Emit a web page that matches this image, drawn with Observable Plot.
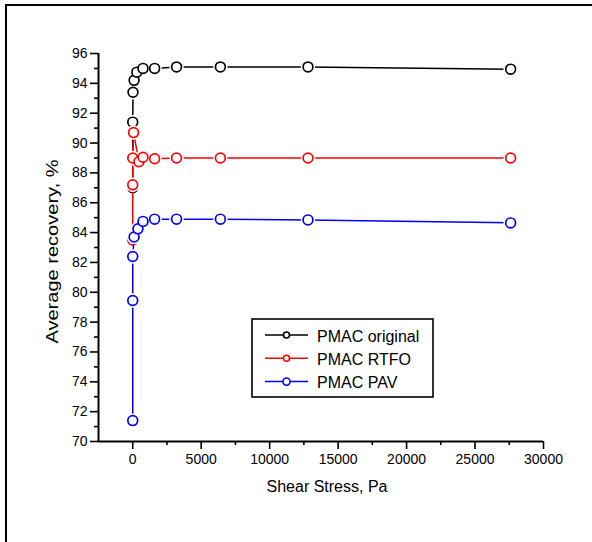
<!DOCTYPE html>
<html><head><meta charset="utf-8">
<script src="https://cdn.jsdelivr.net/npm/d3@7"></script>
<script src="https://cdn.jsdelivr.net/npm/@observablehq/plot@0.6"></script>
<style>
body{margin:0;background:#fff;}
#wrap{position:relative;width:592px;height:542px;overflow:hidden;font-family:"Liberation Sans",Arial,sans-serif;}
#frame{position:absolute;left:5px;top:4px;width:700px;height:700px;border-left:2px solid #000;border-top:2px solid #000;pointer-events:none;}
#chart{position:absolute;left:0;top:0;}
#legend{position:absolute;left:251px;top:318px;}
</style>
</head><body>
<div id="wrap"><div id="chart"></div><div id="frame"></div><div id="legend"></div></div>
<script>
// Series names and colours
const seriesNames = ["PMAC original", "PMAC RTFO", "PMAC PAV"];
const seriesColors = ["#000000", "#ff0000", "#0000ff"];

// Shear stress (Pa) and average recovery (%)
const stressOriginal = [0, 0, 20, 100, 300, 750, 1600, 3200, 6400, 12800, 27600];
const recoveryOriginal = [87.0, 91.4, 93.4, 94.2, 94.75, 95.0, 95.0, 95.1, 95.1, 95.1, 94.95];

const stressRTFO = [0, 0, 0, 60, 450, 750, 1600, 3200, 6400, 12800, 27600];
const recoveryRTFO = [83.5, 87.2, 89.0, 90.7, 88.75, 89.05, 88.95, 89.0, 89.0, 89.0, 89.0];

const stressPAV = [0, 0, 0, 100, 380, 750, 1600, 3200, 6400, 12800, 27600];
const recoveryPAV = [71.4, 79.45, 82.4, 83.7, 84.25, 84.75, 84.9, 84.9, 84.9, 84.85, 84.65];

// Axis ticks
const xMajorTicks = [0, 5000, 10000, 15000, 20000, 25000, 30000];
const xMinorTicks = [2500, 7500, 12500, 17500, 22500, 27500];
const yMajorTicks = [70, 72, 74, 76, 78, 80, 82, 84, 86, 88, 90, 92, 94, 96];
const yMinorTicks = [71, 73, 75, 77, 79, 81, 83, 85, 87, 89, 91, 93, 95];
const xLabel = "Shear Stress, Pa";
const yLabel = "Average recovery, %";

const allStress = [stressOriginal, stressRTFO, stressPAV];
const allRecovery = [recoveryOriginal, recoveryRTFO, recoveryPAV];
const data = [];
seriesNames.forEach((s, i) => {
  allStress[i].forEach((x, j) => data.push({series: s, stress: x, recovery: allRecovery[i][j], order: j}));
});

const marks = [];
seriesNames.forEach((s, i) => {
  const d = data.filter(r => r.series === s);
  marks.push(Plot.line(d, {x: "stress", y: "recovery", stroke: seriesColors[i], strokeWidth: 1.5}));
  marks.push(Plot.dot(d, {x: "stress", y: "recovery", r: 7.2, fill: "white", stroke: null}));
  marks.push(Plot.dot(d, {x: "stress", y: "recovery", r: 4.9, fill: "white", stroke: seriesColors[i], strokeWidth: 1.7}));
});

const plot = Plot.plot({
  width: 592,
  height: 542,
  marginLeft: 98,
  marginRight: 49,
  marginTop: 53,
  marginBottom: 101,
  style: {fontFamily: '"Liberation Sans", Arial, sans-serif', background: "transparent", color: "#000"},
  x: {domain: [-2500, 30000]},
  y: {domain: [70, 96]},
  marks: [
    ...marks,
    Plot.axisX({ticks: xMajorTicks, tickSize: 8, tickPadding: 5, strokeWidth: 1.6, fontSize: 14, tickFormat: d => String(d), label: null}),
    Plot.axisX({ticks: xMinorTicks, tickSize: 4, strokeWidth: 1.6, tickFormat: null, text: null, label: null}),
    Plot.axisY({ticks: yMajorTicks, tickSize: 8, tickPadding: 3, strokeWidth: 1.6, fontSize: 14, tickFormat: d => String(d), label: null}),
    Plot.axisY({ticks: yMinorTicks, tickSize: 4, strokeWidth: 1.6, text: null, label: null}),
    Plot.ruleX([-2500], {stroke: "black", strokeWidth: 2}),
    Plot.ruleY([70], {stroke: "black", strokeWidth: 2}),
    Plot.text([xLabel], {frameAnchor: "bottom", dy: 50, dx: 6, text: d => d, fontSize: 16, fill: "black"}),
    Plot.text([yLabel], {frameAnchor: "left", textAnchor: "middle", lineAnchor: "middle", dx: -46, dy: 4, rotate: -90, text: d => d, fontSize: 17, fill: "black", className: "ylab"})
  ]
});
document.getElementById("chart").appendChild(plot);
// the reference's rotated axis title is drawn a little longer than its thickness
plot.querySelectorAll(".ylab text").forEach(t => {
  const tr = t.getAttribute("transform") || "";
  t.setAttribute("transform", tr + " scale(1.18,1)");
});

// Legend
const lw = 183, lh = 80;
const ns = "http://www.w3.org/2000/svg";
const svg = document.createElementNS(ns, "svg");
svg.setAttribute("width", lw); svg.setAttribute("height", lh);
svg.style.fontFamily = '"Liberation Sans", Arial, sans-serif';
const rect = document.createElementNS(ns, "rect");
rect.setAttribute("x", 1); rect.setAttribute("y", 1); rect.setAttribute("width", lw - 2); rect.setAttribute("height", lh - 2);
rect.setAttribute("fill", "white"); rect.setAttribute("stroke", "black"); rect.setAttribute("stroke-width", 1.6);
svg.appendChild(rect);
seriesNames.forEach((s, i) => {
  const cy = 17 + i * 23.3;
  const ln = document.createElementNS(ns, "line");
  ln.setAttribute("x1", 14); ln.setAttribute("x2", 57); ln.setAttribute("y1", cy); ln.setAttribute("y2", cy);
  ln.setAttribute("stroke", seriesColors[i]); ln.setAttribute("stroke-width", 1.5);
  svg.appendChild(ln);
  const c = document.createElementNS(ns, "circle");
  c.setAttribute("cx", 35.5); c.setAttribute("cy", cy); c.setAttribute("r", i === 2 ? 3.6 : 3);
  c.setAttribute("fill", "white"); c.setAttribute("stroke", seriesColors[i]); c.setAttribute("stroke-width", 1.6);
  svg.appendChild(c);
  const t = document.createElementNS(ns, "text");
  t.setAttribute("x", 66); t.setAttribute("y", cy); t.setAttribute("dy", "0.42em");
  t.setAttribute("font-size", 16); t.textContent = s;
  svg.appendChild(t);
});
document.getElementById("legend").appendChild(svg);
</script>
</body></html>
